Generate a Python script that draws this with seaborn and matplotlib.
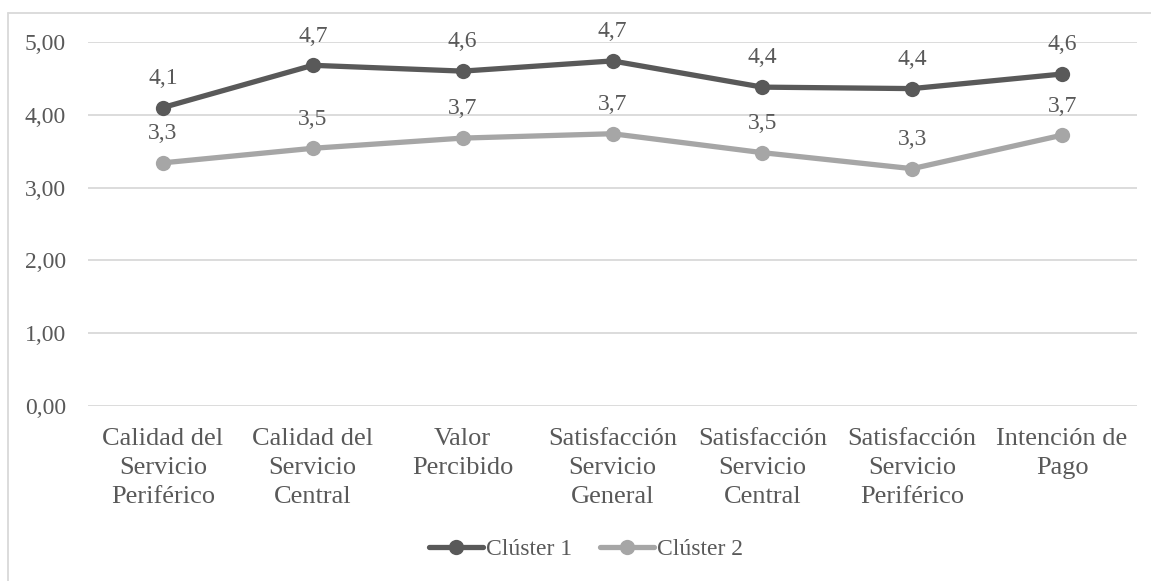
import matplotlib
matplotlib.use('Agg')
import matplotlib.pyplot as plt
from matplotlib.lines import Line2D
from matplotlib.ticker import FuncFormatter
import seaborn as sns
import pandas as pd

categorias = ['Calidad del\nServicio\nPeriférico', 'Calidad del\nServicio\nCentral',
              'Valor\nPercibido', 'Satisfacción\nServicio\nGeneral',
              'Satisfacción\nServicio\nCentral', 'Satisfacción\nServicio\nPeriférico',
              'Intención de\nPago']
cluster1 = [4.10, 4.68, 4.60, 4.74, 4.38, 4.36, 4.56]
cluster2 = [3.34, 3.54, 3.68, 3.74, 3.48, 3.26, 3.72]
series = ['Clúster 1', 'Clúster 2']
colores = ['#595959', '#A6A6A6']

sns.set_style('white')
plt.rcParams['font.family'] = ['Liberation Serif', 'DejaVu Serif']
texto = '#595959'
fs = 17

df = pd.DataFrame({'pos': list(range(len(categorias))) * 2,
                   'valor': cluster1 + cluster2,
                   'serie': [series[0]] * 7 + [series[1]] * 7})

fig = plt.figure(figsize=(11.51, 5.81), dpi=100)
ax = fig.add_axes([88 / 1151, 1 - 406 / 581, (1137 - 88) / 1151, (406 - 42) / 581])

sns.lineplot(data=df, x='pos', y='valor', hue='serie', palette=colores,
             marker='o', markersize=11, linewidth=3.8, markeredgewidth=0,
             legend=False, ax=ax)

for vals, col in zip([cluster1, cluster2], colores):
    for i, v in enumerate(vals):
        ax.annotate(f'{v:.1f}'.replace('.', ','), (i, v), xytext=(0, 21),
                    textcoords='offset points', ha='center', va='center',
                    fontsize=fs, color=texto)

ax.set_xlim(-0.5, 6.5)
ax.set_ylim(0, 5)
ax.set_yticks([0, 1, 2, 3, 4, 5])
ax.yaxis.set_major_formatter(FuncFormatter(lambda v, p: f'{v:.2f}'.replace('.', ',')))
ax.set_xticks(range(len(categorias)))
ax.set_xticklabels(categorias, linespacing=1.4, fontsize=19)
ax.tick_params(axis='both', labelcolor=texto, length=0)
ax.tick_params(axis='y', labelsize=fs, pad=16)
ax.tick_params(axis='x', pad=16)
ax.set_xlabel('')
ax.set_ylabel('')
ax.grid(axis='y', color='#D9D9D9', linewidth=1.3)
ax.set_axisbelow(True)
for s in ax.spines.values():
    s.set_visible(False)

handles = [Line2D([], [], color=c, linewidth=3.8, marker='o', markersize=11,
                  markeredgewidth=0) for c in colores]
fig.legend(handles, series, loc='center', bbox_to_anchor=(0.509, 1 - 549 / 581),
           ncol=2, frameon=False, fontsize=fs, labelcolor=texto,
           handlelength=2.3, handletextpad=0.1, columnspacing=1.2)

# marco del gráfico
fig.add_artist(Line2D([8 / 1151, 8 / 1151], [0, 1 - 13 / 581], color='#D9D9D9',
                      linewidth=1.3, transform=fig.transFigure))
fig.add_artist(Line2D([8 / 1151, 1], [1 - 13 / 581, 1 - 13 / 581], color='#D9D9D9',
                      linewidth=1.3, transform=fig.transFigure))

fig.savefig('out.png', dpi=100)
